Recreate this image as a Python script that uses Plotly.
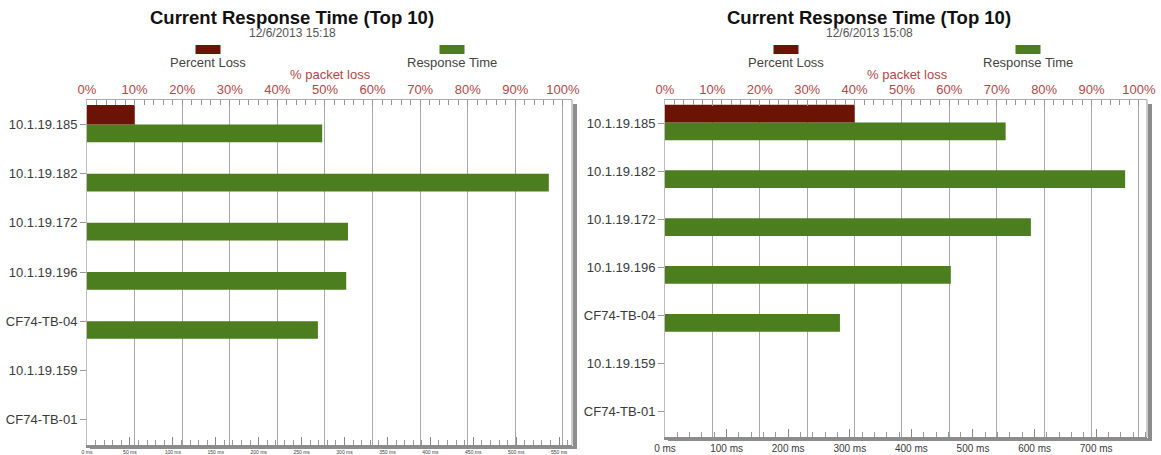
import plotly.graph_objects as go

# ---------------- data ----------------
hosts = ["10.1.19.185", "10.1.19.182", "10.1.19.172", "10.1.19.196",
         "CF74-TB-04", "10.1.19.159", "CF74-TB-01"]

left_loss = [10, 0, 0, 0, 0, 0, 0]              # % packet loss
left_resp = [274, 538, 304, 302, 269, None, None]  # ms
right_loss = [40, 0, 0, 0, 0, 0, 0]
right_resp = [553, 747, 594, 464, 284, None, None]

left_title = "Current Response Time (Top 10)"
left_sub = "12/6/2013 15:18"
right_title = "Current Response Time (Top 10)"
right_sub = "12/6/2013 15:08"

pct_ticks = list(range(0, 101, 10))
left_ms_ticks = list(range(0, 551, 50))
right_ms_ticks = list(range(0, 701, 100))

# ---------------- style ----------------
W, H = 1161, 455
RED = "#6b1305"
GREEN = "#4c7d1f"
PINK = "#b04848"
FONT = "Liberation Sans"
TXT = "#3a3a3a"
GRID = "#a8a8a8"

def px(x):
    return x / W

def py(y):
    return 1 - y / H

L_DOM = [px(87), px(572)]
R_DOM = [px(665), px(1147)]
L_YDOM = [py(445), py(100)]
R_YDOM = [py(437), py(100)]

fig = go.Figure()

# left chart
fig.add_trace(go.Bar(x=left_loss, y=hosts, orientation="h", xaxis="x2", yaxis="y",
                     marker=dict(color=RED, line=dict(width=0)),
                     width=0.4, offset=-0.4, name="Percent Loss", showlegend=False))
fig.add_trace(go.Bar(x=left_resp, y=hosts, orientation="h", xaxis="x", yaxis="y",
                     marker=dict(color=GREEN, line=dict(width=0)),
                     width=0.36, offset=0, name="Response Time", showlegend=False))
# right chart
fig.add_trace(go.Bar(x=right_loss, y=hosts, orientation="h", xaxis="x4", yaxis="y2",
                     marker=dict(color=RED, line=dict(width=0)),
                     width=0.37, offset=-0.4, name="Percent Loss", showlegend=False))
fig.add_trace(go.Bar(x=right_resp, y=hosts, orientation="h", xaxis="x3", yaxis="y2",
                     marker=dict(color=GREEN, line=dict(width=0)),
                     width=0.37, offset=-0.03, name="Response Time", showlegend=False))


def ms_axis(domain, anchor, rng, ticks, size, minor_dtick):
    return dict(domain=domain, anchor=anchor, range=rng, tickvals=ticks,
                ticktext=[f"{t} ms" for t in ticks],
                ticks="inside", ticklen=8, tickcolor="#888", tickwidth=1,
                minor=dict(dtick=minor_dtick, tick0=0, ticks="inside", ticklen=5,
                           tickcolor="#999", showgrid=False),
                showgrid=False, zeroline=False, showline=True, linewidth=3,
                linecolor="#8c8c8c", tickfont=dict(family=FONT, size=size, color=TXT),
                automargin=False, fixedrange=True)


def pct_axis(overlay, anchor, rng):
    return dict(overlaying=overlay, anchor=anchor, side="top", range=rng,
                tickvals=pct_ticks, ticktext=[f"{t}%" for t in pct_ticks],
                ticks="inside", ticklen=6, tickcolor="#999",
                minor=dict(dtick=2, tick0=0, ticks="inside", ticklen=5,
                           tickcolor="#999", showgrid=False),
                showgrid=True, gridcolor=GRID, gridwidth=1, zeroline=False,
                showline=True, linecolor="#aaaaaa", linewidth=1,
                tickfont=dict(family=FONT, size=13, color=PINK),
                automargin=False, fixedrange=True)


def cat_axis(domain, anchor, rng):
    return dict(domain=domain, anchor=anchor, type="category",
                categoryorder="array", categoryarray=hosts, range=rng,
                ticks="outside", ticklen=6, tickcolor="#999", showgrid=False,
                showline=True, linecolor="#bdbdbd", linewidth=1, zeroline=False,
                tickfont=dict(family=FONT, size=13, color=TXT),
                automargin=False, fixedrange=True)


fig.update_layout(
    width=W, height=H, margin=dict(l=0, r=0, t=0, b=0, pad=0),
    paper_bgcolor="white", plot_bgcolor="white",
    barmode="overlay", showlegend=False,
    xaxis=ms_axis(L_DOM, "y", [0, 565], left_ms_ticks, 5, 10),
    xaxis2=pct_axis("x", "y", [0, 101.9]),
    xaxis3=ms_axis(R_DOM, "y2", [0, 782.5], right_ms_ticks, 10, 20),
    xaxis4=pct_axis("x3", "y2", [0, 101.7]),
    yaxis=cat_axis(L_YDOM, "x", [6.52, -0.5]),
    yaxis2=cat_axis(R_YDOM, "x3", [6.54, -0.5]),
)

annotations = []
shapes = []


def header(cx, title, sub, red_cx, green_cx, pkt_cx):
    annotations.extend([
        dict(text=f"<b>{title}</b>", x=px(cx), y=py(18), xref="paper", yref="paper",
             showarrow=False, xanchor="center", yanchor="middle",
             font=dict(family=FONT, size=18.5, color="#111")),
        dict(text=sub, x=px(cx), y=py(33), xref="paper", yref="paper",
             showarrow=False, xanchor="center", yanchor="middle",
             font=dict(family=FONT, size=12, color="#555")),
        dict(text="Percent Loss", x=px(red_cx), y=py(63), xref="paper", yref="paper",
             showarrow=False, xanchor="center", yanchor="middle",
             font=dict(family=FONT, size=13, color="#444")),
        dict(text="Response Time", x=px(green_cx), y=py(63), xref="paper", yref="paper",
             showarrow=False, xanchor="center", yanchor="middle",
             font=dict(family=FONT, size=13, color="#444")),
        dict(text="% packet loss", x=px(pkt_cx), y=py(75), xref="paper", yref="paper",
             showarrow=False, xanchor="center", yanchor="middle",
             font=dict(family=FONT, size=13, color=PINK)),
    ])
    for c, col in ((red_cx, RED), (green_cx, GREEN)):
        shapes.append(dict(type="rect", xref="paper", yref="paper",
                           x0=px(c - 12.5), x1=px(c + 12.5), y0=py(54), y1=py(45),
                           fillcolor=col, line=dict(width=0)))


header(292, left_title, left_sub, 208, 452, 330)
header(869, right_title, right_sub, 786, 1028, 907)


def frame(xd, yd):
    # right border + drop shadow
    shapes.append(dict(type="line", xref="paper", yref="paper",
                       x0=xd[1], x1=xd[1], y0=yd[0], y1=yd[1],
                       line=dict(color="#999", width=1)))
    shapes.append(dict(type="rect", xref="paper", yref="paper",
                       x0=xd[1] + px(1), x1=xd[1] + px(5), y0=yd[0] - 4 / H, y1=yd[1] - 4 / H,
                       fillcolor="#8c8c8c", line=dict(width=0)))
    shapes.append(dict(type="rect", xref="paper", yref="paper",
                       x0=xd[0] + px(3), x1=xd[1] + px(5), y0=yd[0] - 4 / H, y1=yd[0] - 1 / H,
                       fillcolor="#8c8c8c", line=dict(width=0)))


frame(L_DOM, L_YDOM)
frame(R_DOM, R_YDOM)

fig.update_layout(annotations=annotations, shapes=shapes)

fig.write_html("out.html",
               config={"displayModeBar": False, "staticPlot": True},
               post_script="document.body.style.margin='0px';document.body.style.overflow='hidden';")
